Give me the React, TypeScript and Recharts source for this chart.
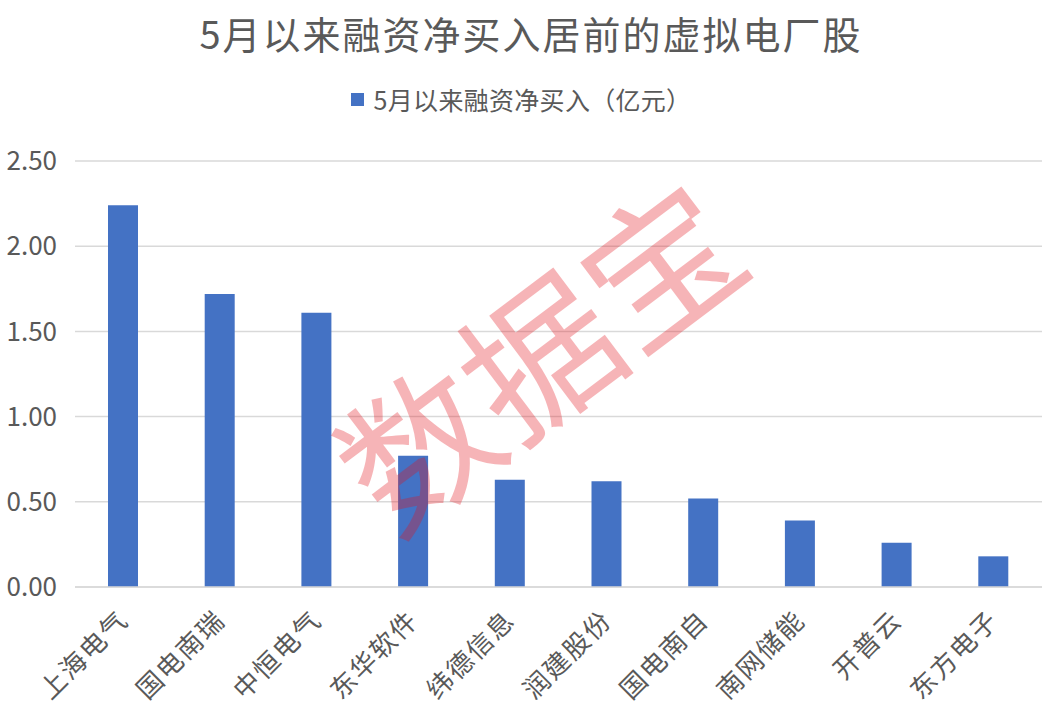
import { Bar, BarChart, CartesianGrid, XAxis, YAxis } from "recharts";

const stocks = ["上海电气", "国电南瑞", "中恒电气", "东华软件", "纬德信息", "润建股份", "国电南自", "南网储能", "开普云", "东方电子"];
const netBuy = [2.24, 1.72, 1.61, 0.77, 0.63, 0.62, 0.52, 0.39, 0.26, 0.18];
const yTicks = [0, 0.5, 1, 1.5, 2, 2.5];

const seriesName = "5月以来融资净买入（亿元）";
const FONT = '"Noto Sans CJK SC", "Noto Sans", sans-serif';
const GRAY = "#595959";
const BLUE = "#4472c4";

const rows = stocks.map((name, i) => ({ name, value: netBuy[i] }));

// rotated category label, right end sits under the bar
function SlantTick(props: any) {
  const { x, y, payload } = props;
  return (
    <g transform={`translate(${x + 1},${y + 15})`}>
      <text
        transform="rotate(-45)"
        textAnchor="end"
        fontSize={26}
        letterSpacing={2}
        fill={GRAY}
        fontFamily={FONT}
        dy={8}
      >
        {payload.value}
      </text>
    </g>
  );
}

export default function App() {
  return (
    <div style={{ position: "absolute", left: 0, top: 0, width: 1042, height: 718, background: "#fff", fontFamily: FONT }}>
      <div style={{ position: "absolute", top: 5, left: 10, width: 1042, textAlign: "center", fontSize: 38, color: GRAY, letterSpacing: 2 }}>
        5月以来融资净买入居前的虚拟电厂股
      </div>
      <div
        style={{
          position: "absolute",
          top: 81,
          left: 0,
          width: 1042,
          display: "flex",
          alignItems: "center",
          justifyContent: "center",
          fontSize: 25,
          letterSpacing: 0.3,
          color: GRAY,
        }}
      >
        <span style={{ width: 13, height: 13, background: BLUE, display: "inline-block", marginRight: 10 }} />
        {seriesName}
      </div>
      <BarChart width={1042} height={718} data={rows} margin={{ top: 161, right: 0, bottom: 6, left: 0 }}>
        <CartesianGrid vertical={false} stroke="#d9d9d9" strokeWidth={1.5} />
        <XAxis
          dataKey="name"
          interval={0}
          height={125}
          axisLine={{ stroke: "#d9d9d9", strokeWidth: 1.5 }}
          tickLine={false}
          tickSize={0}
          tickMargin={14}
          tick={<SlantTick />}
        />
        <YAxis
          domain={[0, 2.5]}
          ticks={yTicks}
          width={75}
          axisLine={false}
          tickLine={false}
          tickSize={0}
          tickMargin={18}
          tickFormatter={(v: number) => v.toFixed(2)}
          tick={{ fill: GRAY, fontSize: 26, fontFamily: FONT }}
        />
        <Bar dataKey="value" name={seriesName} fill={BLUE} barSize={30} isAnimationActive={false} />
      </BarChart>
      <div
        style={{
          position: "absolute",
          left: 535,
          top: 350,
          transform: "translate(-50%, -50%) rotate(-37deg)",
          fontSize: 152,
          color: "rgb(229, 16, 26)",
          opacity: 0.31,
          whiteSpace: "nowrap",
          pointerEvents: "none",
          lineHeight: 1,
        }}
      >
        数据宝
      </div>
    </div>
  );
}
